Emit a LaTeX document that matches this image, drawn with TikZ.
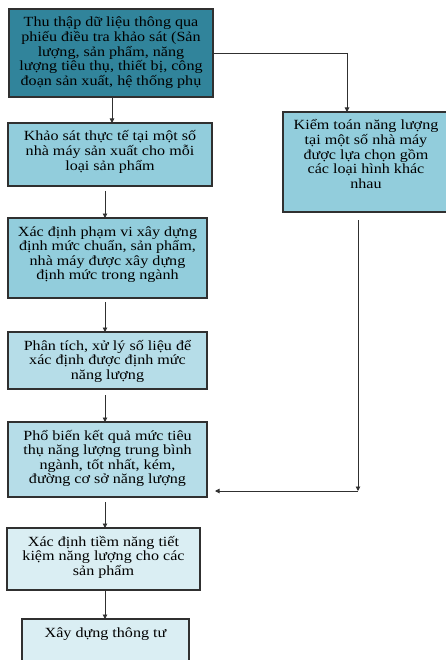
\documentclass[tikz,border=0pt]{standalone}
\usepackage{fontspec}
\setmainfont[FakeStretch=1.15]{Liberation Serif}
\usetikzlibrary{arrows.meta}
\definecolor{cteal}{HTML}{31849B}
\definecolor{cmid}{HTML}{92CDDC}
\definecolor{clight}{HTML}{B6DDE8}
\definecolor{cpale}{HTML}{DAEEF3}
\definecolor{cline}{HTML}{303030}
\newcommand\fbtext[3]{\parbox[c][#1][t]{#2}{\centering\rule{0pt}{18pt}\makebox[0pt]{\begin{tabular}[t]{@{}c@{}}#3\end{tabular}}}}
\begin{document}
\begin{tikzpicture}[x=1pt,y=-1pt,
  fb/.style={draw=cline,line width=1.1pt,inner sep=0pt,outer sep=0pt,
    font=\fontsize{14}{14.6}\selectfont},
  arr/.style={draw=cline,line width=0.9pt,-{Triangle[length=4.5pt,width=4.5pt]}},
  ln/.style={draw=cline,line width=0.9pt}]
\useasboundingbox (0,0) rectangle (446,660);
\clip (0,0) rectangle (446,660);
\fill[white] (0,0) rectangle (446,660);
\node[fb,fill=cteal] (b1) at (111,53) {\fbtext{88pt}{204pt}{Thu thập dữ liệu thông qua\\phiếu điều tra khảo sát (Sản\\lượng, sản phẩm, năng\\lượng tiêu thụ, thiết bị, công\\đoạn sản xuất, hệ thống phụ}};
\node[fb,fill=cmid] (b2) at (110,154.5) {\fbtext{63pt}{204pt}{Khảo sát thực tế tại một số\\nhà máy sản xuất cho mỗi\\loại sản phẩm}};
\node[fb,fill=cmid] (b3) at (107.5,258) {\fbtext{80pt}{199pt}{Xác định phạm vi xây dựng\\định mức chuẩn, sản phẩm,\\nhà máy được xây dựng\\định mức trong ngành}};
\node[fb,fill=cmid] (r) at (366,162) {\fbtext{100pt}{166pt}{Kiểm toán năng lượng\\tại một số nhà máy\\được lựa chọn gồm\\các loại hình khác\\nhau}};
\node[fb,fill=clight] (b4) at (107.5,360.5) {\fbtext{57pt}{199pt}{Phân tích, xử lý số liệu để\\xác định được định mức\\năng lượng}};
\node[fb,fill=clight] (b5) at (107.5,459.5) {\fbtext{75pt}{199pt}{Phổ biến kết quả mức tiêu\\thụ năng lượng trung bình\\ngành, tốt nhất, kém,\\đường cơ sở năng lượng}};
\node[fb,fill=cpale] (b6) at (103.5,559) {\fbtext{62pt}{193pt}{Xác định tiềm năng tiết\\kiệm năng lượng cho các\\sản phẩm}};
\node[fb,fill=cpale] (b7) at (105.5,649.5) {\fbtext{61pt}{167pt}{Xây dựng thông tư}};
\coordinate (c1) at (347,53);
\coordinate (c2) at (358,491);
\draw[arr] (b1.south -| 112,0) -- (b2.north -| 112,0);
\draw[arr,shorten <=5pt] (b2.south -| 105,0) -- (b3.north -| 105,0);
\draw[arr,shorten <=4pt] (b3.south -| 105,0) -- (b4.north -| 105,0);
\draw[arr,shorten <=6pt] (b4.south -| 105,0) -- (b5.north -| 105,0);
\draw[arr,shorten <=5pt] (b5.south -| 105,0) -- (b6.north -| 105,0);
\draw[arr] (b6.south -| 105,0) -- (b7.north -| 105,0);
\draw[ln] (b1.east) -- (c1);
\draw[arr] (c1) -- (r.north -| c1);
\draw[arr,shorten <=8pt] (r.south -| c2) -- (c2);
\draw[arr,shorten >=8pt] (c2) -- (b5.east |- c2);
\end{tikzpicture}
\end{document}
